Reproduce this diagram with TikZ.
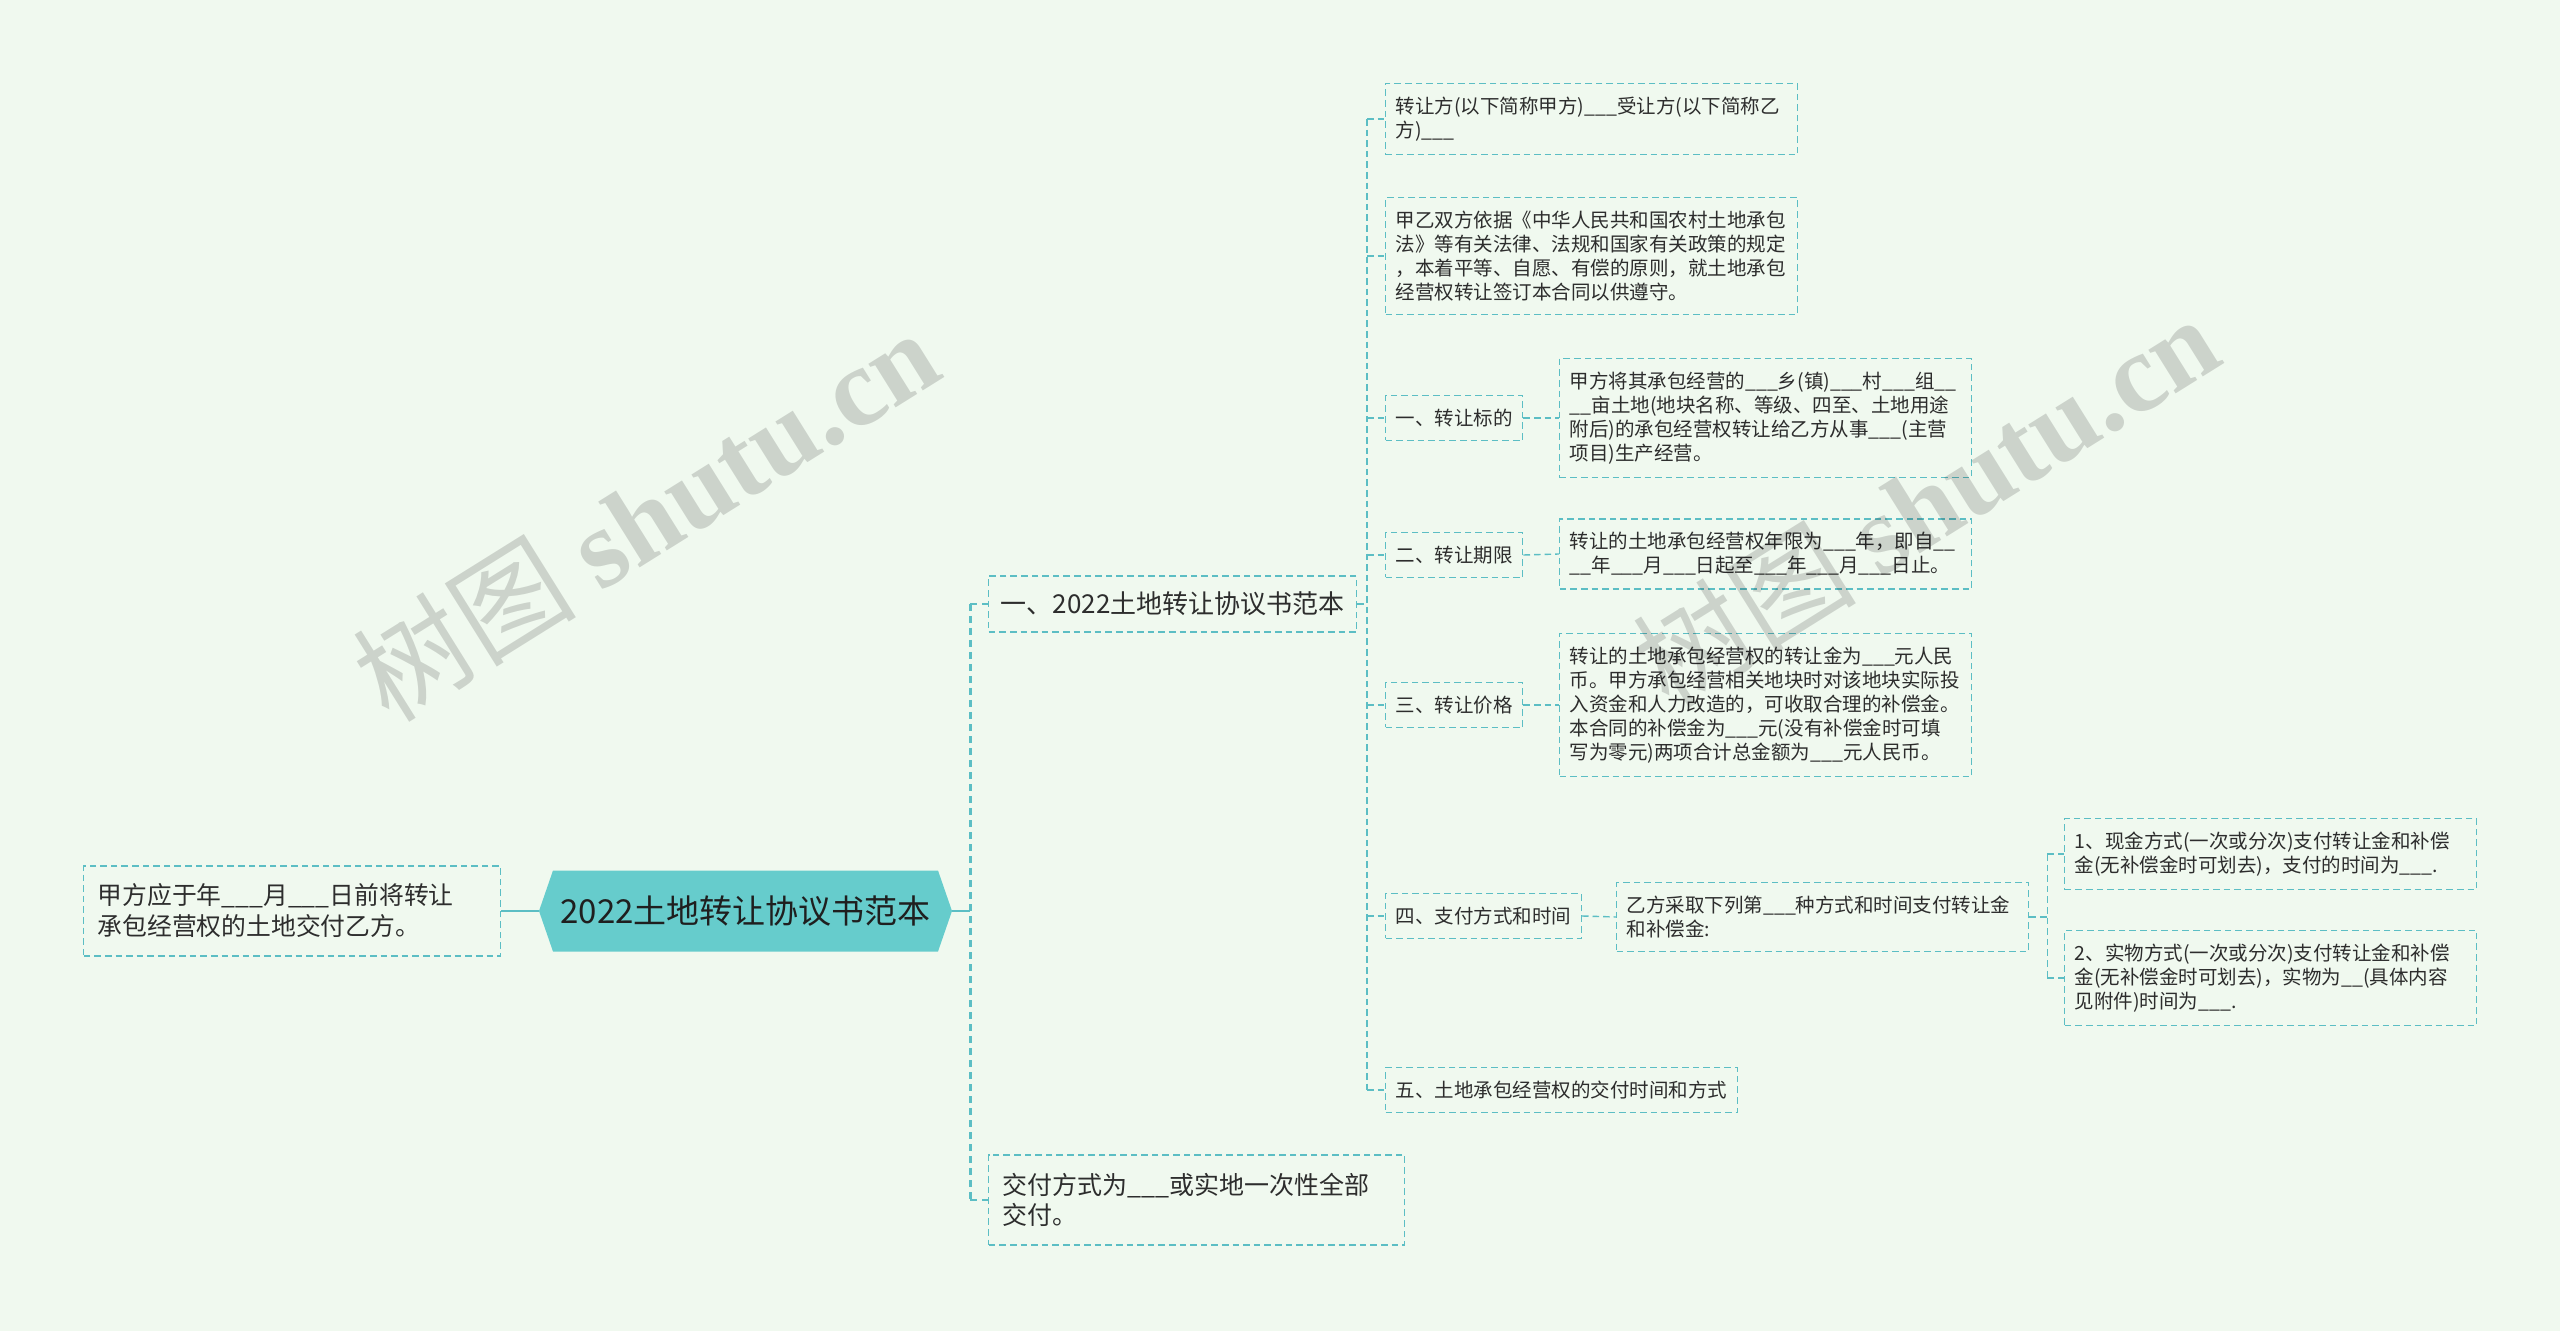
\documentclass[tikz,border=0pt]{standalone}
\usepackage{fontspec}
\setmainfont{Noto Sans CJK SC}
\newfontfamily\wmserif{Liberation Serif}
\usetikzlibrary{calc}
\definecolor{bgc}{RGB}{240,249,239}
\definecolor{lnc}{RGB}{92,190,196}
\definecolor{rootc}{RGB}{102,204,204}
\definecolor{txc}{RGB}{45,45,45}
\begin{document}
\begin{tikzpicture}[x=0.5pt,y=-0.5pt,
  bx/.style={draw=lnc, line width=0.7pt, dash pattern=on 3.3pt off 2pt, text=txc, anchor=west,
    font=\fontsize{9.75pt}{12pt}\selectfont, inner xsep=5pt, inner ysep=6.7pt, align=left},
  wbx/.style={bx, text width=196pt},
  lone/.style={bx, font=\fontsize{13pt}{16pt}\selectfont, inner xsep=6pt, inner ysep=8pt},
  cn/.style={draw=lnc, line width=0.7pt, dash pattern=on 3.3pt off 2pt},
  trunk/.style={draw=lnc, line width=1.3pt, dash pattern=on 3.5pt off 2.5pt},
  solidln/.style={draw=lnc, line width=1.1pt},
  wm/.style={rotate=32, text=black, opacity=0.15, font=\fontsize{56pt}{56pt}\selectfont, inner sep=0pt}
]
\useasboundingbox (0,0) rectangle (2560,1331);
\fill[bgc] (0,0) rectangle (2560,1331);

% root
\node[font=\fontsize{16.5pt}{20pt}\selectfont, text=black!88, minimum width=206.5pt, minimum height=40.5pt,
  inner sep=0pt, fill=bgc,
  path picture={\fill[rootc] (path picture bounding box.west)
    -- ([xshift=7pt]path picture bounding box.north west)
    -- ([xshift=-7pt]path picture bounding box.north east)
    -- (path picture bounding box.east)
    -- ([xshift=-7pt]path picture bounding box.south east)
    -- ([xshift=7pt]path picture bounding box.south west) -- cycle;}]
  (root) at (745.5,911) {2022土地转让协议书范本};

% left node
\node[bx, font=\fontsize{12.4pt}{15.5pt}\selectfont, text width=194.5pt, inner xsep=7pt, inner ysep=9pt]
  (lft) at (83,911) {甲方应于年\_\_\_月\_\_\_日前将转让\\承包经营权的土地交付乙方。};

% level 1
\node[lone] (n1) at (988,604) {一、2022土地转让协议书范本};
\node[bx, font=\fontsize{12.5pt}{15pt}\selectfont, text width=194pt, inner xsep=7pt, inner ysep=9.25pt]
  (n2) at (988,1200) {交付方式为\_\_\_或实地一次性全部\\交付。};

% level 2
\node[wbx] (a1) at (1385,119) {转让方(以下简称甲方)\_\_\_受让方(以下简称乙\\方)\_\_\_};
\node[wbx] (a2) at (1385,256) {甲乙双方依据《中华人民共和国农村土地承包\\法》等有关法律、法规和国家有关政策的规定\\，本着平等、自愿、有偿的原则，就土地承包\\经营权转让签订本合同以供遵守。};
\node[bx] (a3) at (1385,418) {一、转让标的};
\node[bx] (a4) at (1385,555) {二、转让期限};
\node[bx] (a5) at (1385,705) {三、转让价格};
\node[bx] (a6) at (1385,916) {四、支付方式和时间};
\node[bx] (a7) at (1385,1090) {五、土地承包经营权的交付时间和方式};

% level 3
\node[wbx] (b3) at (1559,418) {甲方将其承包经营的\_\_\_乡(镇)\_\_\_村\_\_\_组\_\_\\\_\_亩土地(地块名称、等级、四至、土地用途\\附后)的承包经营权转让给乙方从事\_\_\_(主营\\项目)生产经营。};
\node[wbx] (b4) at (1559,554) {转让的土地承包经营权年限为\_\_\_年，即自\_\_\\\_\_年\_\_\_月\_\_\_日起至\_\_\_年\_\_\_月\_\_\_日止。};
\node[wbx] (b5) at (1559,705) {转让的土地承包经营权的转让金为\_\_\_元人民\\币。甲方承包经营相关地块时对该地块实际投\\入资金和人力改造的，可收取合理的补偿金。\\本合同的补偿金为\_\_\_元(没有补偿金时可填\\写为零元)两项合计总金额为\_\_\_元人民币。};
\node[wbx] (b6) at (1616,917) {乙方采取下列第\_\_\_种方式和时间支付转让金\\和补偿金:};

% level 4
\node[wbx] (c1) at (2064,854) {1、现金方式(一次或分次)支付转让金和补偿\\金(无补偿金时可划去)，支付的时间为\_\_\_.};
\node[wbx] (c2) at (2064,978) {2、实物方式(一次或分次)支付转让金和补偿\\金(无补偿金时可划去)，实物为\_\_(具体内容\\见附件)时间为\_\_\_.};

% connectors: root level
\draw[solidln] (lft.east) -- (root.west);
\coordinate (t0) at ($(root.east)+(18,0)$);
\draw[solidln] (root.east) -- (t0);
\draw[trunk] (n1.west -| t0) -- (n2.west -| t0);
\draw[trunk] (n1.west -| t0) -- (n1.west);
\draw[trunk] (n2.west -| t0) -- (n2.west);

% level 2 connectors
\coordinate (t1x) at ($(a1.west)+(-18,0)$);
\coordinate (t1) at (n1.east -| t1x);
\draw[cn] (n1.east) -- (t1);
\draw[cn] (a1.west -| t1) -- (a7.west -| t1);
\foreach \n in {a1,a2,a3,a4,a5,a6,a7} \draw[cn] (\n.west -| t1) -- (\n.west);

% level 3 connectors
\draw[cn] (a3.east) -- (b3.west);
\draw[cn] (a4.east) -- (b4.west);
\draw[cn] (a5.east) -- (b5.west);
\draw[cn] (a6.east) -- (b6.west);

% level 4 connectors
\coordinate (t2) at ($(b6.east)+(18,0)$);
\draw[cn] (b6.east) -- (t2);
\draw[cn] (c1.west -| t2) -- (c2.west -| t2);
\draw[cn] (c1.west -| t2) -- (c1.west);
\draw[cn] (c2.west -| t2) -- (c2.west);

% watermarks
\node[wm] (wm1) at (645,514) {树图 {\wmserif\bfseries shutu.cn}};
\node[wm] (wm2) at (1925,500) {树图 {\wmserif\bfseries shutu.cn}};
\end{tikzpicture}
\end{document}
